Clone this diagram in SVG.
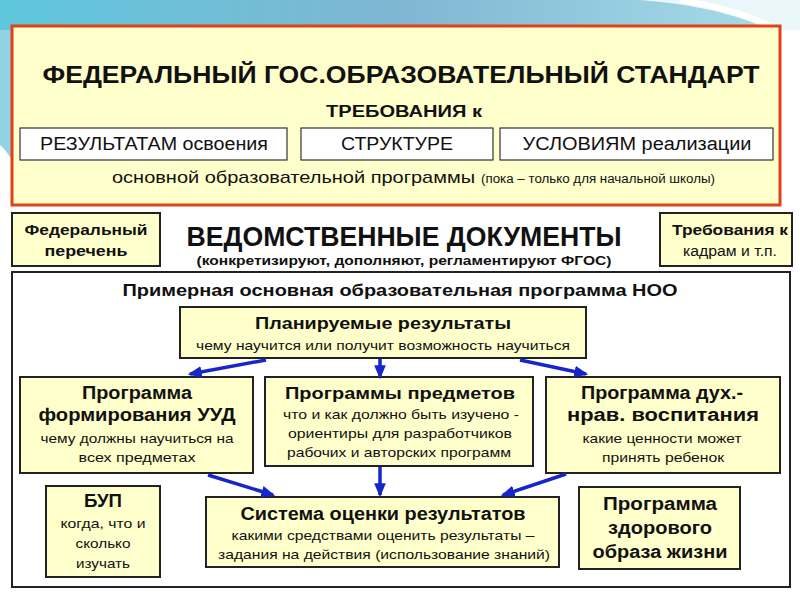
<svg xmlns="http://www.w3.org/2000/svg" width="800" height="600" viewBox="0 0 800 600">
<defs>
<linearGradient id="bg" x1="0" y1="0" x2="1" y2="0">
<stop offset="0" stop-color="#5fc7dc"/>
<stop offset="0.5" stop-color="#7fb6d2"/>
<stop offset="1" stop-color="#a9dfea"/>
</linearGradient>
<marker id="ah" viewBox="0 0 12 10" refX="10" refY="5" markerWidth="4" markerHeight="3.4" orient="auto" markerUnits="strokeWidth">
<path d="M0,0 L12,5 L0,10 z" fill="#1626c8"/>
</marker>
<style>
text{font-family:"Liberation Sans Narrow","Liberation Sans",Arial,sans-serif;fill:#111;text-anchor:middle}
.b{font-weight:bold}
.s{text-anchor:start}
.box{fill:#ffffcc;stroke:#222;stroke-width:2}
.wbox{fill:#fff;stroke:#333;stroke-width:1.2}
.arr{stroke:#1626c8;stroke-width:3.5;fill:none;marker-end:url(#ah)}
</style>
</defs>
<rect width="800" height="600" fill="#fff"/>
<path d="M0,0 H800 V30 H0 Z" fill="url(#bg)"/>
<path d="M0,30 H12 V160 Q6,150 0,145 Z" fill="#8fd3e4"/>
<path d="M640,0 Q720,6 770,30 L800,30 L800,0 Z" fill="#e9f7fa"/>
<path d="M680,0 Q740,10 780,30" stroke="#fff" stroke-width="6" fill="none"/>

<g id="fgos">
<rect x="12" y="26" width="768" height="179" fill="#ffffcc" stroke="#e0401a" stroke-width="3"/>
<text x="401" y="83" class="b" font-size="23" textLength="717" lengthAdjust="spacingAndGlyphs">ФЕДЕРАЛЬНЫЙ ГОС.ОБРАЗОВАТЕЛЬНЫЙ СТАНДАРТ</text>
<text x="404" y="117" class="b" font-size="16" textLength="156" lengthAdjust="spacingAndGlyphs">ТРЕБОВАНИЯ к</text>
<text x="112" y="183" class="s" font-size="17" textLength="363" lengthAdjust="spacingAndGlyphs">основной образовательной программы</text>
<text x="481" y="183" class="s" font-size="12" textLength="234" lengthAdjust="spacingAndGlyphs">(пока – только для начальной школы)</text>
</g>
<g id="req-results">
<rect x="20" y="128" width="267" height="32" class="wbox"/>
<text x="154" y="150" font-size="18" textLength="228" lengthAdjust="spacingAndGlyphs">РЕЗУЛЬТАТАМ освоения</text>
</g>
<g id="req-structure">
<rect x="301" y="128" width="192" height="32" class="wbox"/>
<text x="397" y="150" font-size="18" textLength="112" lengthAdjust="spacingAndGlyphs">СТРУКТУРЕ</text>
</g>
<g id="req-conditions">
<rect x="500" y="128" width="273" height="32" class="wbox"/>
<text x="637" y="150" font-size="18" textLength="229" lengthAdjust="spacingAndGlyphs">УСЛОВИЯМ реализации</text>
</g>

<g id="fed-list">
<rect x="12" y="213" width="148" height="53" class="box"/>
<text x="86" y="235" class="b" font-size="15" textLength="123" lengthAdjust="spacingAndGlyphs">Федеральный</text>
<text x="86" y="256" class="b" font-size="15" textLength="83" lengthAdjust="spacingAndGlyphs">перечень</text>
</g>
<g id="vedom">
<text x="404" y="246" class="b" font-size="27" textLength="435" lengthAdjust="spacingAndGlyphs">ВЕДОМСТВЕННЫЕ ДОКУМЕНТЫ</text>
<text x="404" y="265" class="b" font-size="13" textLength="415" lengthAdjust="spacingAndGlyphs">(конкретизируют, дополняют, регламентируют ФГОС)</text>
</g>
<g id="staff">
<rect x="660" y="213" width="132" height="53" class="box"/>
<text x="730" y="235" class="b" font-size="15" textLength="116" lengthAdjust="spacingAndGlyphs">Требования к</text>
<text x="730" y="256" font-size="14" textLength="94" lengthAdjust="spacingAndGlyphs">кадрам и т.п.</text>
</g>

<g id="noo">
<rect x="12" y="272" width="778" height="315" fill="#fff" stroke="#222" stroke-width="2"/>
<text x="400" y="296" class="b" font-size="17" textLength="555" lengthAdjust="spacingAndGlyphs">Примерная основная образовательная программа НОО</text>
</g>
<g id="planned">
<rect x="180" y="307" width="406" height="51" class="box"/>
<text x="383" y="329" class="b" font-size="17" textLength="256" lengthAdjust="spacingAndGlyphs">Планируемые результаты</text>
<text x="383" y="350" font-size="13" textLength="374" lengthAdjust="spacingAndGlyphs">чему научится или получит возможность научиться</text>
</g>
<g id="uud">
<rect x="20" y="377" width="233" height="96" class="box"/>
<text x="137" y="399" class="b" font-size="18" textLength="110" lengthAdjust="spacingAndGlyphs">Программа</text>
<text x="137" y="421" class="b" font-size="18" textLength="197" lengthAdjust="spacingAndGlyphs">формирования УУД</text>
<text x="137" y="443" font-size="13" textLength="193" lengthAdjust="spacingAndGlyphs">чему должны научиться на</text>
<text x="137" y="462" font-size="13" textLength="117" lengthAdjust="spacingAndGlyphs">всех предметах</text>
</g>
<g id="subjects">
<rect x="265" y="377" width="268" height="89" class="box"/>
<text x="400" y="399" class="b" font-size="17" textLength="230" lengthAdjust="spacingAndGlyphs">Программы предметов</text>
<text x="401" y="419" font-size="13" textLength="236" lengthAdjust="spacingAndGlyphs">что и как должно быть изучено -</text>
<text x="400" y="438" font-size="13" textLength="224" lengthAdjust="spacingAndGlyphs">ориентиры для разработчиков</text>
<text x="399" y="457" font-size="13" textLength="224" lengthAdjust="spacingAndGlyphs">рабочих и авторских программ</text>
</g>
<g id="moral">
<rect x="546" y="377" width="234" height="96" class="box"/>
<text x="662" y="399" class="b" font-size="18" textLength="162" lengthAdjust="spacingAndGlyphs">Программа дух.-</text>
<text x="663" y="421" class="b" font-size="18" textLength="192" lengthAdjust="spacingAndGlyphs">нрав. воспитания</text>
<text x="662" y="443" font-size="13" textLength="159" lengthAdjust="spacingAndGlyphs">какие ценности может</text>
<text x="663" y="462" font-size="13" textLength="122" lengthAdjust="spacingAndGlyphs">принять ребенок</text>
</g>
<g id="bup">
<rect x="46" y="486" width="114" height="91" class="box"/>
<text x="103" y="507" class="b" font-size="18" textLength="38" lengthAdjust="spacingAndGlyphs">БУП</text>
<text x="103" y="528" font-size="13" textLength="85" lengthAdjust="spacingAndGlyphs">когда, что и</text>
<text x="103" y="548" font-size="13" textLength="55" lengthAdjust="spacingAndGlyphs">сколько</text>
<text x="103" y="568" font-size="13" textLength="54" lengthAdjust="spacingAndGlyphs">изучать</text>
</g>
<g id="assessment">
<rect x="206" y="497" width="353" height="70" class="box"/>
<text x="383" y="520" class="b" font-size="18" textLength="285" lengthAdjust="spacingAndGlyphs">Система оценки результатов</text>
<text x="383" y="540" font-size="13" textLength="303" lengthAdjust="spacingAndGlyphs">какими средствами оценить результаты –</text>
<text x="384" y="559" font-size="13" textLength="332" lengthAdjust="spacingAndGlyphs">задания на действия (использование знаний)</text>
</g>
<g id="health">
<rect x="579" y="487" width="161" height="82" class="box"/>
<text x="660" y="510" class="b" font-size="18" textLength="114" lengthAdjust="spacingAndGlyphs">Программа</text>
<text x="660" y="534" class="b" font-size="18" textLength="104" lengthAdjust="spacingAndGlyphs">здорового</text>
<text x="660" y="558" class="b" font-size="18" textLength="135" lengthAdjust="spacingAndGlyphs">образа жизни</text>
</g>

<g id="connectors">
<line x1="266" y1="360" x2="190" y2="374" class="arr"/>
<line x1="380" y1="359" x2="380" y2="377" class="arr"/>
<line x1="520" y1="360" x2="586" y2="374" class="arr"/>
<line x1="208" y1="475" x2="273" y2="495" class="arr"/>
<line x1="380" y1="467" x2="380" y2="495" class="arr"/>
<line x1="566" y1="474" x2="503" y2="495" class="arr"/>
</g>
</svg>
